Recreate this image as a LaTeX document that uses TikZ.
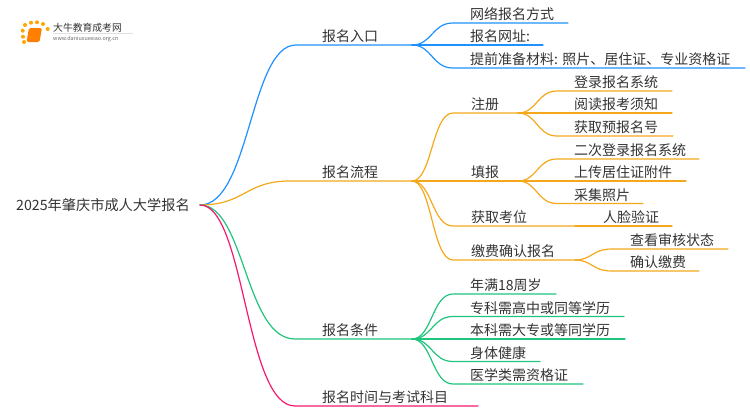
\documentclass[tikz,border=0pt]{standalone}
\usepackage{fontspec}
\usepackage{xcolor}
\usetikzlibrary{positioning}
\setmainfont{Noto Sans CJK SC}
\definecolor{bluebr}{HTML}{1E90FF}
\definecolor{orangebr}{HTML}{F5A81C}
\definecolor{greenbr}{HTML}{1FC47D}
\definecolor{pinkbr}{HTML}{F5186F}
\definecolor{inktext}{HTML}{333333}
\begin{document}
\begin{tikzpicture}[x=1pt,y=-1pt,
  every node/.style={text=inktext, font=\fontsize{14pt}{16pt}\selectfont, inner sep=0pt, anchor=base west},
  branch/.style={line width=1.2pt, line cap=round},
  bluel/.style={branch, bluebr},
  orangel/.style={branch, orangebr},
  greenl/.style={branch, greenbr},
  pinkl/.style={branch, pinkbr}]
  \useasboundingbox (0,0) rectangle (750,410);
  % logo
  \foreach \px/\py in {25/25,22.7/30.7,23/36.7,24/42,31/22.7,37/22.3,43/24,47.7/29} {
    \fill[orange!70!yellow] (\px,\py) circle (2);
  }
  \fill[orange, rounded corners=1.5pt] (29,28) -- (42,28) -- (39.5,42) -- (26.5,42) -- cycle;
  \draw[black!12, line width=0.5pt] (53,33.5) -- (133,33.5);
  \node (logotitle) at (53,31) {\fontsize{9.8pt}{11pt}\selectfont 大牛教育成考网};
  \node (logourl) at (53,40.5) {\fontsize{5.4pt}{6pt}\selectfont\color{black!60} www.daniuxuexiao.org.cn};
  % root
  \node (root) at (16,210.5) {\fontsize{14.2pt}{16pt}\selectfont 2025年肇庆市成人大学报名};
  \coordinate (rootend) at (200,205);
  % first level
  \node (entry) at (322,41.5) {报名入口};
  \node (flow) at (322,177) {报名流程};
  \node (cond) at (322,335.5) {报名条件};
  \node (time) at (322,402) {报名时间与考试科目};
  \coordinate (entryl) at (296,45);
  \coordinate (entryr) at (412,45);
  \coordinate (flowl) at (290,181);
  \coordinate (flowr) at (412,181);
  \coordinate (condl) at (295,339);
  \coordinate (condr) at (412,339);
  \coordinate (timel) at (295,406);
  \coordinate (timer) at (478,406);
  \draw[bluel] (rootend) .. controls (250,205) and (250,45) .. (entryl) -- (entryr);
  \draw[orangel] (rootend) .. controls (245,205) and (245,181) .. (flowl) -- (flowr);
  \draw[greenl] (rootend) .. controls (245,205) and (245,339) .. (condl) -- (condr);
  \draw[pinkl] (rootend) .. controls (245,205) and (245,406) .. (timel) -- (timer);
  % entry leaves
  \node (web) at (470,19.5) {网络报名方式};
  \node (site) at (470,41.5) {报名网址:};
  \node (prep) at (470,64.5) {提前准备材料: 照片、居住证、专业资格证};
  \coordinate (webe) at (568,23);
  \coordinate (sitee) at (543,45);
  \coordinate (prepe) at (745,68);
  \draw[bluel] (entryr) .. controls (432,45) and (432,23) .. (453,23) -- (webe);
  \draw[bluel] (entryr) -- (sitee);
  \draw[bluel] (entryr) .. controls (432,45) and (432,68) .. (453,68) -- (prepe);
  % flow second level
  \node (reg) at (471,109.5) {注册};
  \node (fill) at (471,177) {填报};
  \node (seat) at (471,222.5) {获取考位};
  \node (pay) at (471,256.5) {缴费确认报名};
  \coordinate (rege) at (518,113);
  \coordinate (fille) at (518,181);
  \coordinate (seate) at (575,226);
  \coordinate (paye) at (575,260);
  \draw[orangel] (flowr) .. controls (432,181) and (432,113) .. (453,113) -- (rege);
  \draw[orangel] (flowr) -- (fille);
  \draw[orangel] (flowr) .. controls (432,181) and (432,226) .. (453,226) -- (seate);
  \draw[orangel] (flowr) .. controls (432,181) and (432,260) .. (453,260) -- (paye);
  % third level
  \node (login) at (574,87) {登录报名系统};
  \node (read) at (574,109.5) {阅读报考须知};
  \node (num) at (574,132.5) {获取预报名号};
  \node (relog) at (574,155) {二次登录报名系统};
  \node (upload) at (574,177.5) {上传居住证附件};
  \node (photo) at (574,200) {采集照片};
  \node (face) at (603,222.5) {人脸验证};
  \node (check) at (630,245) {查看审核状态};
  \node (confirm) at (630,267.5) {确认缴费};
  \coordinate (logine) at (672,91);
  \coordinate (reade) at (672,113);
  \coordinate (nume) at (673,136);
  \coordinate (reloge) at (699,159);
  \coordinate (uploade) at (686,181);
  \coordinate (photoe) at (643,203.5);
  \coordinate (facee) at (672,226);
  \coordinate (checke) at (728,249);
  \coordinate (confirme) at (699,271);
  \draw[orangel] (rege) .. controls (537,113) and (537,91) .. (557,91) -- (logine);
  \draw[orangel] (rege) -- (reade);
  \draw[orangel] (rege) .. controls (537,113) and (537,136) .. (557,136) -- (nume);
  \draw[orangel] (fille) .. controls (537,181) and (537,159) .. (557,159) -- (reloge);
  \draw[orangel] (fille) -- (uploade);
  \draw[orangel] (fille) .. controls (537,181) and (537,203.5) .. (557,203.5) -- (photoe);
  \draw[orangel] (seate) -- (facee);
  \draw[orangel] (paye) .. controls (592,260) and (592,249) .. (612,249) -- (checke);
  \draw[orangel] (paye) .. controls (592,260) and (592,271) .. (612,271) -- (confirme);
  % condition leaves
  \node (age) at (470,290.5) {年满18周岁};
  \node (spec) at (470,313) {专科需高中或同等学历};
  \node (bach) at (470,335.5) {本科需大专或等同学历};
  \node (health) at (470,358) {身体健康};
  \node (med) at (470,380.5) {医学类需资格证};
  \coordinate (agee) at (556,294);
  \coordinate (spece) at (624,316.5);
  \coordinate (bache) at (625,339);
  \coordinate (healthe) at (540,361.5);
  \coordinate (mede) at (583,384);
  \draw[greenl] (condr) .. controls (432,339) and (432,294) .. (453,294) -- (agee);
  \draw[greenl] (condr) .. controls (432,339) and (432,316.5) .. (453,316.5) -- (spece);
  \draw[greenl] (condr) -- (bache);
  \draw[greenl] (condr) .. controls (432,339) and (432,361.5) .. (453,361.5) -- (healthe);
  \draw[greenl] (condr) .. controls (432,339) and (432,384) .. (453,384) -- (mede);
\end{tikzpicture}
\end{document}
